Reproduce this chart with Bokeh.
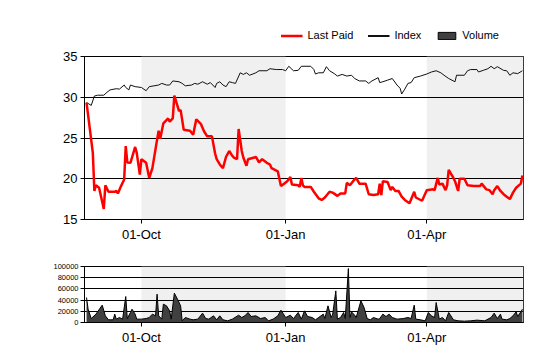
import pandas as pd
from bokeh.plotting import figure
from bokeh.models import (Range1d, FixedTicker, DatetimeTickFormatter, BoxAnnotation,
                          Legend, LegendItem, NumeralTickFormatter)
from bokeh.layouts import column
from bokeh.embed import file_html
from bokeh.resources import INLINE

# ---------------- data (x = days from 01-Oct) ----------------
BASE_DATE = "2009-10-01"
quarter_ticks = ["2009-10-01", "2010-01-01", "2010-04-01"]
shaded_bands = [("2009-10-01", "2010-01-01"), ("2010-04-01", "2010-07-01")]
x_window_days = (-36.3, 243.7)

last_paid = [
    (-35, 29.35), (-31, 23.2), (-30, 18.5), (-29, 19.2), (-27, 18.9), (-24, 16.3), (-23, 19.2),
    (-21, 18.4), (-17, 18.4), (-16, 18.5), (-15, 18.2), (-13, 19.1), (-11, 19.9), (-10, 24.0),
    (-9, 22.0), (-7, 21.95), (-4, 23.9), (-3, 23.2), (-1, 20.5), (0, 22.4), (3, 21.95), (5, 20.1),
    (7, 21.3), (10, 24.8), (11, 25.9), (12, 24.9), (14, 26.8), (16, 27.2), (17, 27.4), (18, 27.0),
    (20, 27.4), (21, 30.2), (24, 28.3), (25, 28.45), (27, 26.0), (31, 25.9), (33, 25.4), (35, 27.3),
    (38, 26.7), (40, 25.8), (42, 25.2), (45, 25.2), (47, 23.1), (48, 22.4), (50, 21.75), (52, 21.3),
    (54, 22.7), (56, 23.4), (58, 22.8), (59, 22.6), (61, 22.4), (62, 26.1), (64, 23.4), (65, 22.6),
    (67, 21.6), (68, 22.4), (72, 22.6), (73, 22.7), (75, 22.0), (77, 22.4), (80, 21.95), (82, 21.75),
    (83, 21.3), (87, 20.9), (89, 19.1), (91, 19.4), (93, 19.7), (95, 20.2), (96, 19.3), (100, 19.2),
    (101, 19.0), (102, 20.1), (103, 19.2), (104, 19.0), (108, 19.0), (110, 18.4), (113, 17.6),
    (115, 17.4), (117, 17.7), (120, 18.4), (122, 18.3), (125, 17.9), (127, 18.2), (130, 18.2),
    (131, 19.5), (133, 19.2), (135, 19.7), (137, 20.1), (139, 19.4), (143, 19.4), (145, 18.1),
    (148, 18.0), (151, 18.1), (152, 19.4), (153, 18.0), (154, 19.7), (157, 19.6), (159, 18.6),
    (160, 19.0), (162, 18.5), (164, 18.5), (166, 17.8), (168, 17.4), (171, 17.0), (174, 18.4),
    (175, 17.7), (179, 17.3), (182, 18.6), (186, 18.7), (187, 18.6), (189, 20.1), (190, 19.3),
    (192, 19.4), (194, 18.6), (195, 19.2), (196, 21.1), (199, 20.1), (200, 19.7), (202, 18.5),
    (203, 20.0), (206, 20.0), (208, 19.2), (212, 19.1), (216, 19.1), (217, 19.4), (220, 18.7),
    (222, 18.6), (224, 18.1), (225, 18.6), (227, 19.1), (229, 18.5), (231, 18.1), (233, 17.8),
    (235, 17.5), (237, 18.3), (239, 18.9), (242, 19.4), (243, 20.4),
]

index_series = [
    (-35, 29.35), (-32, 29.0), (-30, 30.15), (-28, 30.25), (-24, 30.25), (-22, 30.6), (-20, 30.9),
    (-16, 31.05), (-14, 31.0), (-11, 31.5), (-10, 31.2), (-8, 30.9), (-7, 31.5), (-4, 31.3),
    (0, 31.2), (3, 30.8), (5, 31.3), (8, 31.4), (11, 31.5), (13, 31.7), (16, 31.5), (18, 31.5),
    (20, 32.0), (24, 31.9), (26, 31.7), (28, 31.4), (32, 31.5), (34, 31.7), (36, 31.6), (39, 31.9),
    (42, 31.6), (44, 31.8), (47, 31.2), (48, 31.7), (50, 31.9), (52, 31.5), (54, 31.3), (56, 31.9),
    (58, 31.8), (60, 31.7), (63, 33.0), (65, 32.8), (67, 33.0), (69, 32.7), (73, 33.0), (75, 33.25),
    (80, 33.25), (82, 33.5), (86, 33.4), (90, 33.4), (92, 33.25), (94, 33.8), (97, 33.25),
    (100, 33.3), (102, 33.8), (108, 33.8), (110, 33.4), (111, 32.85), (113, 33.0), (116, 33.0),
    (118, 33.75), (120, 33.25), (123, 32.9), (125, 32.6), (128, 32.8), (131, 32.6), (134, 32.7),
    (136, 32.3), (139, 32.0), (143, 32.0), (145, 31.7), (147, 32.0), (151, 32.4), (152, 31.8),
    (154, 31.9), (157, 32.1), (160, 32.3), (163, 31.5), (165, 31.1), (166, 30.4), (168, 31.0),
    (170, 31.7), (172, 31.8), (174, 32.4), (178, 32.6), (182, 32.85), (185, 33.1), (188, 33.25),
    (191, 33.0), (193, 32.7), (196, 32.3), (200, 31.9), (201, 32.7), (206, 32.7), (208, 33.25),
    (210, 33.4), (214, 33.4), (215, 33.1), (218, 33.3), (221, 33.5), (223, 33.8), (225, 33.5),
    (227, 33.75), (231, 33.3), (233, 33.25), (235, 32.7), (237, 33.0), (240, 32.9), (243, 33.25),
]

volume = [
    (-35, 44600), (-34, 23800), (-32, 7100), (-29, 14900), (-25, 31000), (-23, 11900), (-21, 4800),
    (-18, 4800), (-17, 14900), (-16, 6000), (-14, 8900), (-12, 6000), (-10, 46400), (-9, 7100),
    (-7, 17900), (-6, 23800), (-4, 14900), (-3, 6000), (0, 6000), (3, 7100), (5, 8900), (7, 14900),
    (9, 11900), (10, 50600), (11, 11900), (13, 6000), (14, 32700), (16, 29800), (18, 20800),
    (19, 6000), (21, 52400), (23, 41700), (25, 29800), (26, 3000), (28, 8900), (31, 6000),
    (33, 4800), (36, 6000), (39, 16700), (41, 7100), (43, 6000), (46, 11900), (48, 4800),
    (50, 11900), (52, 4800), (55, 3000), (58, 6000), (62, 13100), (64, 8900), (66, 11900),
    (68, 17900), (70, 10700), (73, 11900), (76, 7100), (79, 8900), (81, 3000), (84, 6000),
    (87, 11900), (89, 22000), (92, 8900), (95, 13100), (97, 7100), (100, 17900), (102, 6000),
    (104, 20800), (106, 10700), (109, 8900), (111, 4800), (113, 8900), (116, 14900), (117, 7100),
    (119, 29800), (121, 8900), (122, 14900), (124, 56500), (125, 6000), (127, 8900), (129, 17900),
    (130, 7100), (132, 96400), (133, 8900), (134, 19000), (136, 13100), (137, 8900), (140, 38700),
    (142, 26800), (144, 7100), (146, 4800), (148, 8900), (151, 6000), (152, 7100), (154, 14900),
    (156, 10700), (158, 14900), (160, 8900), (163, 6000), (167, 7100), (170, 8900), (172, 7100),
    (174, 31000), (175, 6000), (178, 4800), (181, 3000), (183, 17900), (185, 11900), (187, 8900),
    (188, 35700), (190, 6000), (192, 8900), (194, 3000), (196, 17900), (199, 4800), (202, 3000),
    (206, 2400), (210, 3000), (214, 4200), (219, 3000), (223, 8900), (225, 16700), (227, 7100),
    (229, 14900), (230, 6000), (233, 4800), (235, 7100), (237, 11900), (239, 19000), (240, 10700),
    (242, 19000), (243, 23800),
]

price_ticks = [15, 20, 25, 30, 35]
volume_ticks = [0, 20000, 40000, 60000, 80000, 100000]
legend_labels = ["Last Paid", "Index", "Volume"]

# ---------------- helpers ----------------
base = pd.Timestamp(BASE_DATE)


def ms(ts):
    return pd.Timestamp(ts).value / 1e6


def to_dates(pairs):
    days = [d for d, _ in pairs]
    vals = [v for _, v in pairs]
    return list(base + pd.to_timedelta(days, unit="D")), vals


x0 = ms(base + pd.Timedelta(days=x_window_days[0]))
x1 = ms(base + pd.Timedelta(days=x_window_days[1]))
FONT = "Liberation Sans"
LP_COLOR, IX_COLOR, VOL_COLOR = "#ff0000", "#111111", "#404040"

fmt = dict(microseconds="%d-%b", milliseconds="%d-%b", seconds="%d-%b", minsec="%d-%b",
           minutes="%d-%b", hourmin="%d-%b", hours="%d-%b", days="%d-%b", months="%d-%b",
           years="%d-%b")


def style(p, yticks, ysize, ystandoff):
    p.outline_line_color = "black"
    p.outline_line_alpha = 1
    p.xgrid.grid_line_color = None
    p.ygrid.grid_line_color = "black"
    p.ygrid.grid_line_width = 1
    p.yaxis.ticker = FixedTicker(ticks=yticks)
    p.xaxis.ticker = FixedTicker(ticks=[ms(t) for t in quarter_ticks])
    p.xaxis.formatter = DatetimeTickFormatter(**fmt)
    for ax in (p.xaxis[0], p.yaxis[0]):
        ax.axis_line_color = "black"
        ax.major_tick_line_color = "black"
        ax.major_tick_out = 4
        ax.major_tick_in = 0
        ax.minor_tick_line_color = None
        ax.major_label_text_font = FONT
        ax.major_label_text_color = "black"
    p.xaxis.major_label_text_font_size = "13px"
    p.xaxis.major_label_standoff = 3
    p.yaxis.major_label_text_font_size = ysize
    p.yaxis.major_label_standoff = ystandoff
    for a, b in shaded_bands:
        p.add_layout(BoxAnnotation(left=ms(a), right=min(ms(b), x1), fill_color="#f0f0f0",
                                   fill_alpha=1, line_color=None, level="image"))


# ---------------- legend strip ----------------
# proxy glyphs sit outside the strip's visible range; they only provide legend swatches
pl = figure(width=521, height=46, x_range=Range1d(0, 1), y_range=Range1d(0, 1),
            x_axis_location=None, y_axis_location=None, output_backend="svg",
            toolbar_location=None, min_border=0)
pl.outline_line_color = None
pl.grid.grid_line_color = None
g_lp = pl.line(x=[-3, -2], y=[-3, -2], line_color=LP_COLOR, line_width=2.5)
g_ix = pl.line(x=[-3, -2], y=[-3, -2], line_color=IX_COLOR, line_width=2)
g_vol = pl.quad(left=[-3], right=[-2], top=[-2], bottom=[-3], fill_color=VOL_COLOR,
                line_color="black")
legend = Legend(items=[LegendItem(label=legend_labels[0], renderers=[g_lp]),
                       LegendItem(label=legend_labels[1], renderers=[g_ix]),
                       LegendItem(label=legend_labels[2], renderers=[g_vol])],
                location="bottom_right", orientation="horizontal",
                glyph_width=22, glyph_height=9, label_standoff=5, spacing=14,
                padding=0, margin=5, border_line_color=None, background_fill_alpha=0,
                label_text_font=FONT, label_text_font_size="11px", label_height=12,
                label_text_color="black")
pl.add_layout(legend)

# ---------------- price chart ----------------
p = figure(frame_width=439, frame_height=163, x_axis_type="datetime",
           x_range=Range1d(x0, x1), y_range=Range1d(15, 35),
           output_backend="svg", toolbar_location=None,
           min_border_left=84, min_border_right=17, min_border_top=10, min_border_bottom=27)
style(p, price_ticks, "13px", 3)

ix_x, ix_y = to_dates(index_series)
lp_x, lp_y = to_dates(last_paid)
p.line(ix_x, ix_y, line_color=IX_COLOR, line_width=1)
p.line(lp_x, lp_y, line_color=LP_COLOR, line_width=2.5)

# ---------------- volume chart ----------------
p2 = figure(frame_width=439, frame_height=56, x_axis_type="datetime",
            x_range=Range1d(x0, x1), y_range=Range1d(0, 100000),
            output_backend="svg", toolbar_location=None,
            min_border_left=84, min_border_right=17, min_border_top=20, min_border_bottom=14)
style(p2, volume_ticks, "7.5px", 2)
p2.yaxis.formatter = NumeralTickFormatter(format="0")

v_x, v_y = to_dates(volume)
p2.varea(x=v_x, y1=[0] * len(v_y), y2=v_y, fill_color=VOL_COLOR)
p2.line(v_x, v_y, line_color="black", line_width=1)

layout = column(pl, p, p2, spacing=0)
open("out.html", "w").write(file_html(layout, INLINE))
